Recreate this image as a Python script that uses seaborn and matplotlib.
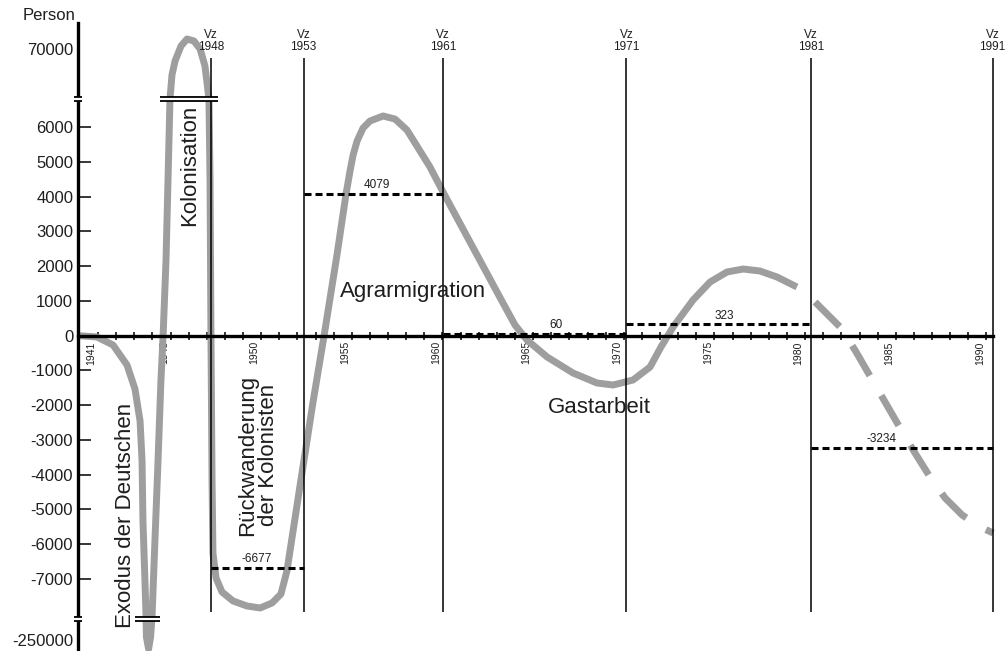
import numpy as np
import matplotlib
matplotlib.use("Agg")
import matplotlib.pyplot as plt
import seaborn as sns

# migration balance curve (year, persons)
curve_year = [1940.76, 1941.80, 1942.69, 1943.46, 1943.90, 1944.18, 1944.29, 1944.34, 1944.45,
              1944.51, 1944.53, 1944.65, 1944.76, 1944.84, 1945.00, 1945.17, 1945.33, 1945.45,
              1945.61, 1945.72, 1945.83, 1945.94, 1946.11, 1946.44, 1946.77, 1947.15, 1947.49,
              1947.76, 1947.98, 1948.04, 1948.09, 1948.15, 1948.20, 1948.37, 1948.70, 1949.31,
              1950.08, 1950.80, 1951.46, 1951.95, 1952.28, 1953.00, 1953.72, 1954.33, 1955.04,
              1955.54, 1955.76, 1955.93, 1956.15, 1956.48, 1956.86, 1957.58, 1958.24, 1958.90,
              1959.45, 1960.17, 1960.89, 1961.83, 1962.93, 1964.03, 1964.86, 1965.52, 1966.63,
              1968.06, 1969.38, 1970.27, 1971.37, 1972.31, 1972.91, 1973.58, 1974.68, 1975.62,
              1976.55, 1977.44, 1978.37, 1979.31, 1980.41]
curve_value = [0, -40, -270, -846, -1536, -2456, -3607, -5332, -7058,
               -8093, -215200, -353300, -215200, -8093, -5907, -3607, -1306, 0,
               2145, 4446, 6805, 37130, 54840, 73790, 82620, 80110, 70000,
               48510, 6805, 4446, 0, -4182, -6252, -6971, -7374, -7633,
               -7777, -7834, -7690, -7432, -6770, -4326, -1910, 0, 2318,
               4072, 4734, 5194, 5597, 5971, 6172, 6316, 6229, 5913,
               5453, 4849, 4130, 3220, 2160, 1096, 305, -127, -615,
               -1076, -1363, -1421, -1277, -903, -328, 247, 1024, 1542,
               1829, 1915, 1858, 1685, 1398]

# dashed continuation after 1981
proj_year = [1981.41, 1982.79, 1983.61, 1984.44, 1985.27, 1986.10, 1986.92, 1987.75,
             1988.58, 1989.52, 1990.51, 1991.23]
proj_value = [966, 247, -414, -1162, -1910, -2657, -3376, -4067, -4671, -5160, -5505, -5677]

# censuses (Vz) and mean yearly balance between them
census_year = [1948.1, 1953.2, 1960.9, 1971.0, 1981.2, 1991.2]
census_label = ["1948", "1953", "1961", "1971", "1981", "1991"]
mean_value = [-6677, 4079, 60, 323, -3234]
mean_label_year = [1950.6, 1957.25, 1967.1, 1976.4, 1985.1]

ytick_values = [-250000, -7000, -6000, -5000, -4000, -3000, -2000, -1000, 0,
                1000, 2000, 3000, 4000, 5000, 6000, 70000]
xtick_years = [1941, 1945, 1950, 1955, 1960, 1965, 1970, 1975, 1980, 1985, 1990]

GRAY = "#9e9e9e"
INK = "#1e1e1e"

sns.set_theme(style="ticks")
plt.rcParams["font.family"] = ["Liberation Sans", "DejaVu Sans"]

# broken y axis: linear core, compressed beyond the breaks
BREAK_TOP, BREAK_BOT = 6805, -8151
k_top = (8243 - BREAK_TOP) / (70000 - BREAK_TOP)
k_bot = (-8755 - BREAK_BOT) / (-250000 - BREAK_BOT)
knots_v = np.array([-1e7, BREAK_BOT, BREAK_TOP, 1e7])
knots_u = np.array([BREAK_BOT + (-1e7 - BREAK_BOT) * k_bot, BREAK_BOT, BREAK_TOP,
                    BREAK_TOP + (1e7 - BREAK_TOP) * k_top])


def fwd(v):
    return np.interp(v, knots_v, knots_u)


def inv(u):
    return np.interp(u, knots_u, knots_v)


fig = plt.figure(figsize=(10.06, 6.51), dpi=100)
ax = fig.add_axes([0, 0, 1, 1])
ax.set_yscale("function", functions=(fwd, inv))

sns.lineplot(x=curve_year, y=curve_value, ax=ax, color=GRAY, lw=5, estimator=None,
             sort=False, solid_capstyle="butt", solid_joinstyle="round", zorder=2)
sns.lineplot(x=proj_year, y=proj_value, ax=ax, color=GRAY, lw=5, estimator=None,
             sort=False, linestyle=(0, (5.0, 3.3)), dash_capstyle="butt", zorder=2)

x0 = 1940.76
ax.set_xlim(1936.455, 1991.94)
y_bottom = float(inv(-9071))
ax.set_ylim(y_bottom, float(inv(9652)))

for s in ["top", "right"]:
    ax.spines[s].set_visible(False)
ax.spines["left"].set_position(("data", x0))
ax.spines["left"].set_bounds(y_bottom, float(inv(8990)))
ax.spines["bottom"].set_position(("data", 0))
ax.spines["bottom"].set_bounds(x0, 1991.2)
for s in ["left", "bottom"]:
    ax.spines[s].set_linewidth(2.4)
    ax.spines[s].set_color("black")

ax.set_yticks(ytick_values, [str(v) for v in ytick_values])
ax.tick_params(axis="y", direction="in", length=9, width=1.1, pad=3.5,
               labelsize=12, labelcolor=INK, color="black")
for t, v in zip(ax.yaxis.get_major_ticks(), ytick_values):
    if abs(v) > 10000:
        t.tick1line.set_visible(False)

ax.set_xticks([y + 0.5 for y in xtick_years], [str(y) for y in xtick_years])
ax.set_xticks(np.arange(1941, 1991) + 0.86, minor=True)
ax.tick_params(axis="x", which="major", length=0, pad=4, labelsize=7.5,
               labelrotation=90, labelcolor=INK)
ax.tick_params(axis="x", which="minor", direction="inout", length=6, width=1.1,
               color="black")
ax.set_xlabel("")
ax.set_ylabel("")

# census lines
ax.vlines(census_year, -7950, float(inv(7984)), color="black", lw=1.1, zorder=3)
for x, lab in zip(census_year, census_label):
    ax.text(x, 1 - 53 / 651, f"Vz\n{lab}", transform=ax.get_xaxis_transform(),
            ha="center", va="bottom", fontsize=8.5, linespacing=0.95, color=INK)

# mean balance between censuses
ax.hlines(mean_value, census_year[:-1], census_year[1:], colors="black", lw=2.2,
          linestyles=[(0, (2.3, 1.3))], zorder=4)
for x, v in zip(mean_label_year, mean_value):
    ax.annotate(str(v), (x, v), xytext=(0, 2), textcoords="offset points",
                ha="center", va="bottom", fontsize=8.5, color=INK)

# phase labels
ax.text(1943.35, -5160, "Exodus der Deutschen", rotation=90, ha="center", va="center",
        fontsize=16, color=INK)
ax.text(1946.93, 4900, "Kolonisation", rotation=90, ha="center", va="center",
        fontsize=16, color=INK)
ax.text(1950.68, -3434, "Rückwanderung\nder Kolonisten", rotation=90, ha="center",
        va="center", fontsize=16, linespacing=1.0, multialignment="center", color=INK)
ax.text(1959.23, 1254, "Agrarmigration", ha="center", va="center", fontsize=16, color=INK)
ax.text(1969.49, -2082, "Gastarbeit", ha="center", va="center", fontsize=16, color=INK)


def break_mark(xa, xb, y):
    ax.plot([xa, xb], [y, y], color="black", lw=4.2, solid_capstyle="butt", zorder=6)
    ax.plot([xa, xb], [y, y], color="white", lw=1.6, solid_capstyle="butt", zorder=7)


break_mark(1945.28, 1948.48, BREAK_TOP)
break_mark(1943.90, 1945.28, BREAK_BOT)
break_mark(x0 - 0.22, x0 + 0.22, BREAK_TOP)
break_mark(x0 - 0.22, x0 + 0.22, BREAK_BOT)

fig.text(76 / 1006, 1 - 16 / 651, "Person", ha="right", va="center", fontsize=12, color=INK)

fig.savefig("out.png", dpi=100, facecolor="white")
